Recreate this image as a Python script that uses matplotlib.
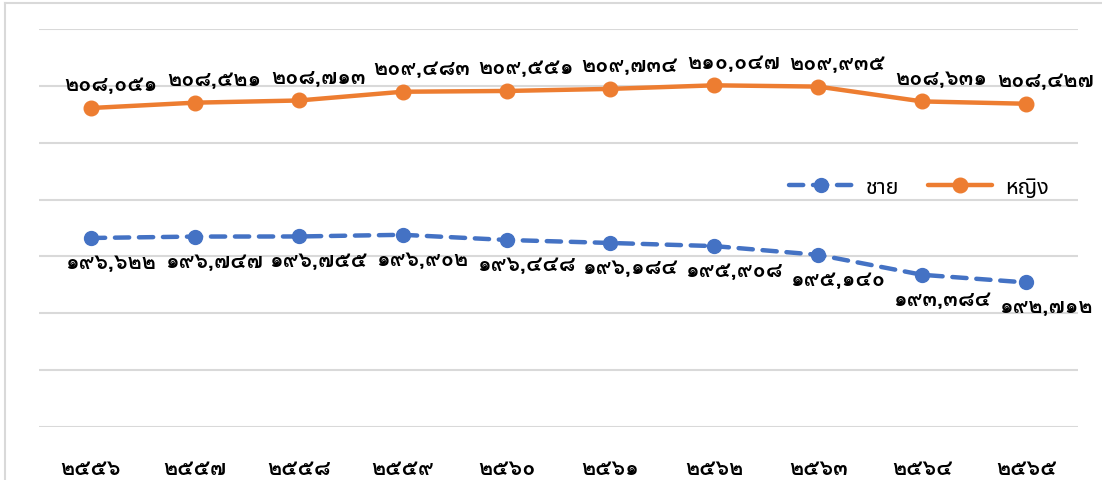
import matplotlib
matplotlib.use("Agg")
import matplotlib.pyplot as plt
from matplotlib.lines import Line2D

# ปี พ.ศ. และจำนวนประชากร (คน)
years = ["๒๕๕๖", "๒๕๕๗", "๒๕๕๘", "๒๕๕๙", "๒๕๖๐",
         "๒๕๖๑", "๒๕๖๒", "๒๕๖๓", "๒๕๖๔", "๒๕๖๕"]
male = [196622, 196747, 196755, 196902, 196448,
        196184, 195908, 195140, 193384, 192712]
female = [208051, 208521, 208713, 209483, 209551,
          209734, 210047, 209935, 208631, 208427]

THAI_DIGITS = str.maketrans("0123456789", "๐๑๒๓๔๕๖๗๘๙")


def thai_num(v):
    return f"{v:,}".translate(THAI_DIGITS)


num_font = ["Loma", "Noto Sans Thai Looped", "DejaVu Sans"]
text_font = ["Noto Sans Thai", "DejaVu Sans"]

blue = "#4472C4"
orange = "#ED7D31"
grid = "#D9D9D9"

fig = plt.figure(figsize=(11.02, 4.81), dpi=100)
ax = fig.add_axes([39 / 1102, 1 - 428 / 481, (1078 - 39) / 1102, (428 - 30) / 481])

x = list(range(len(years)))

ax.plot(x, male, color=blue, lw=3.2, linestyle=(0, (3.2, 2.2)),
        dash_capstyle="round", marker="o", markersize=10, label="ชาย", zorder=3)
ax.plot(x, female, color=orange, lw=3.2, solid_capstyle="round",
        marker="o", markersize=10.5, label="หญิง", zorder=3)

for i, v in enumerate(female):
    ax.annotate(thai_num(v), (i, v), xytext=(14, 10), textcoords="offset points",
                ha="center", va="bottom", fontsize=15.5, fontweight="bold",
                family=num_font, color="black")
for i, v in enumerate(male):
    ax.annotate(thai_num(v), (i, v), xytext=(14, -10), textcoords="offset points",
                ha="center", va="top", fontsize=15.5, fontweight="bold",
                family=num_font, color="black")

ax.set_xlim(-0.5, len(years) - 0.5)
ax.set_ylim(180000, 215000)
ax.set_yticks(range(180000, 215001, 5000))
ax.yaxis.grid(True, color=grid, lw=1.5)
ax.set_axisbelow(True)
ax.tick_params(axis="y", left=False, labelleft=False)
ax.set_xticks(x)
ax.set_xticklabels(years, fontsize=15.5, fontweight="bold", family=num_font)
ax.tick_params(axis="x", length=0, pad=22)
for s in ax.spines.values():
    s.set_visible(False)

ax.legend(loc="center left", bbox_to_anchor=(0.703, 0.603), ncol=2, frameon=False,
          prop={"family": text_font, "size": 15.5}, handlelength=3.0,
          columnspacing=1.3, handletextpad=0.6)

# กรอบแผนภูมิด้านซ้ายและด้านบน
fig.add_artist(Line2D([5 / 1102, 5 / 1102], [0, 1 - 4 / 481], color=grid, lw=1.5))
fig.add_artist(Line2D([5 / 1102, 1], [1 - 4 / 481, 1 - 4 / 481], color=grid, lw=1.5))

fig.savefig("out.png", dpi=100)
